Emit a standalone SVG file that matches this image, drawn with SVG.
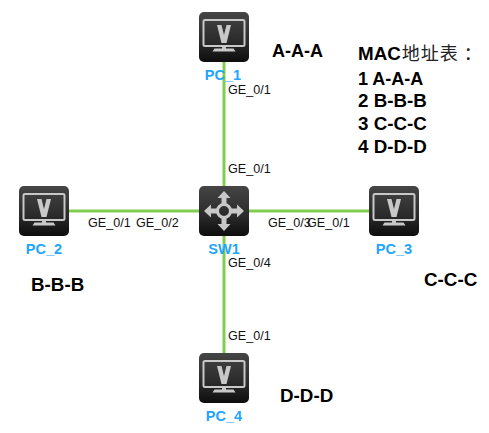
<svg xmlns="http://www.w3.org/2000/svg" width="489" height="433" viewBox="0 0 489 433">
<style>
text{font-family:"Liberation Sans",Arial,sans-serif}
.link{stroke:#82cc50;stroke-width:3;fill:none}
.port{font-size:12.600px;fill:#111}
.name{font-size:14.500px;font-weight:bold;fill:#1ea5ff;text-anchor:middle}
.big{font-size:18.800px;font-weight:bold;fill:#000}
.a{font-size:18px}
.cjk{font-family:"Noto Sans CJK SC",sans-serif;font-weight:400;font-size:18px;fill:#222;letter-spacing:1px}
.sc{fill:none;stroke:#c8c8c8}
.sf{fill:#c8c8c8}
</style>
<defs>
<linearGradient id="bg" x1="0" y1="0" x2="0" y2="1">
<stop offset="0" stop-color="#454545"/><stop offset="0.6" stop-color="#2a2a2a"/><stop offset="1" stop-color="#0d0d0d"/>
</linearGradient>
<g id="pc">
<rect width="50" height="50" rx="5" fill="url(#bg)"/>
<rect x="4.500" y="8" width="41" height="26" rx="1.500" class="sc" stroke-width="2"/>
<path d="M18 13h4.500l2.500 10 2.500-10h4.500l-4.500 18h-5z" class="sf"/>
<path d="M23 34h4v2.500h7.500l2 3h-23l2-3h7.500z" class="sf"/>
</g>
<g id="sw">
<rect width="50" height="50" rx="5" fill="url(#bg)"/>
<circle cx="25" cy="25" r="6.500" fill="none" stroke="#c8c8c8" stroke-width="3"/>
<path d="M25 5l6.500 7h-4v7h-5v-7h-4zM25 45l6.500-7h-4v-7h-5v7h-4zM5 25l7-6.500v4h7v5h-7v4zM45 25l-7-6.500v4h-7v5h7v4z" class="sf"/>
</g>
</defs>
<g id="connectors">
<line class="link" x1="224" y1="62" x2="224" y2="186"/>
<line class="link" x1="69" y1="211" x2="199" y2="211"/>
<line class="link" x1="249" y1="211" x2="369" y2="211"/>
<line class="link" x1="224" y1="236" x2="224" y2="353"/>
<text class="port" x="228" y="94">GE_0/1</text>
<text class="port" x="228" y="173">GE_0/1</text>
<text class="port" x="88" y="227">GE_0/1</text>
<text class="port" x="136" y="227">GE_0/2</text>
<text class="port" x="268" y="227">GE_0/3</text>
<text class="port" x="307" y="227">GE_0/1</text>
<text class="port" x="228" y="267">GE_0/4</text>
<text class="port" x="228" y="340">GE_0/1</text>
</g>
<g id="PC_1"><use href="#pc" x="199" y="12"/><text class="name" x="223" y="80">PC_1</text></g>
<g id="PC_2"><use href="#pc" x="19" y="186"/><text class="name" x="44" y="254">PC_2</text></g>
<g id="SW1"><use href="#sw" x="199" y="186"/><text class="name" x="224" y="254">SW1</text></g>
<g id="PC_3"><use href="#pc" x="369" y="186"/><text class="name" x="394" y="254">PC_3</text></g>
<g id="PC_4"><use href="#pc" x="199" y="353"/><text class="name" x="224" y="421">PC_4</text></g>
<g id="labels">
<text class="big a" x="272" y="57">A-A-A</text>
<text class="big" x="31" y="291">B-B-B</text>
<text class="big" x="424" y="286">C-C-C</text>
<text class="big" x="280" y="402">D-D-D</text>
<text class="big" x="358" y="60">MAC<tspan class="cjk" dx="1">地址表</tspan><tspan dx="5" class="cjk">：</tspan></text>
<text class="big a" x="358" y="85">1 A-A-A</text>
<text class="big" x="358" y="107">2 B-B-B</text>
<text class="big" x="358" y="130">3 C-C-C</text>
<text class="big" x="358" y="153">4 D-D-D</text>
</g>
</svg>
